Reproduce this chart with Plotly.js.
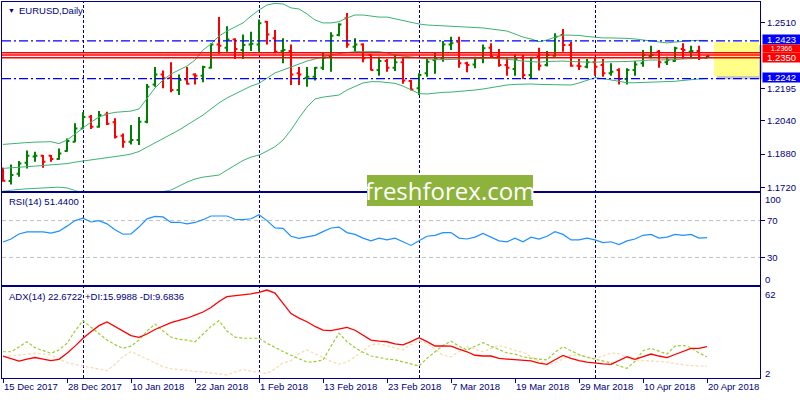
<!DOCTYPE html>
<html>
<head>
<meta charset="utf-8">
<script src="https://cdn.plot.ly/plotly-3.0.1.min.js"></script>
<style>
html,body{margin:0;padding:0;background:#fff;}
#chart{width:800px;height:400px;}
</style>
</head>
<body>
<div id="chart"></div>
<script>
// ---------- DATA ----------
const dates = [
'2017-12-15','2017-12-18','2017-12-19','2017-12-20','2017-12-21','2017-12-22','2017-12-26','2017-12-27','2017-12-28','2017-12-29',
'2018-01-02','2018-01-03','2018-01-04','2018-01-05','2018-01-08','2018-01-09','2018-01-10','2018-01-11','2018-01-12','2018-01-15',
'2018-01-16','2018-01-17','2018-01-18','2018-01-19','2018-01-22','2018-01-23','2018-01-24','2018-01-25','2018-01-26','2018-01-29',
'2018-01-30','2018-01-31','2018-02-01','2018-02-02','2018-02-05','2018-02-06','2018-02-07','2018-02-08','2018-02-09','2018-02-12',
'2018-02-13','2018-02-14','2018-02-15','2018-02-16','2018-02-19','2018-02-20','2018-02-21','2018-02-22','2018-02-23','2018-02-26',
'2018-02-27','2018-02-28','2018-03-01','2018-03-02','2018-03-05','2018-03-06','2018-03-07','2018-03-08','2018-03-09','2018-03-12',
'2018-03-13','2018-03-14','2018-03-15','2018-03-16','2018-03-19','2018-03-20','2018-03-21','2018-03-22','2018-03-23','2018-03-26',
'2018-03-27','2018-03-28','2018-03-29','2018-03-30','2018-04-02','2018-04-03','2018-04-04','2018-04-05','2018-04-06','2018-04-09',
'2018-04-10','2018-04-11','2018-04-12','2018-04-13','2018-04-16','2018-04-17','2018-04-18','2018-04-19','2018-04-20'];

const openP = [1.1811,1.1750,1.1785,1.1838,1.1868,1.1872,1.1872,1.1856,1.1894,1.1939,
1.2003,1.2059,1.2011,1.2070,1.2032,1.1968,1.1939,1.1947,1.2035,1.2214,
1.2262,1.2245,1.2187,1.2238,1.2262,1.2256,1.2294,1.2406,1.2390,1.2429,
1.2379,1.2406,1.2406,1.2515,1.2435,1.2374,1.2374,1.2267,1.2246,1.2251,
1.2294,1.2347,1.2451,1.2531,1.2395,1.2406,1.2355,1.2283,1.2326,1.2294,
1.2320,1.2230,1.2195,1.2267,1.2331,1.2339,1.2406,1.2419,1.2315,1.2310,
1.2339,1.2390,1.2347,1.2307,1.2288,1.2342,1.2259,1.2347,1.2307,1.2352,
1.2451,1.2403,1.2304,1.2299,1.2320,1.2307,1.2267,1.2283,1.2240,1.2283,
1.2315,1.2350,1.2371,1.2320,1.2326,1.2384,1.2371,1.2374,1.2342];
const highP = [1.1814,1.1830,1.1846,1.1897,1.1891,1.1875,1.1875,1.1907,1.1955,1.2027,
1.2080,1.2067,1.2086,1.2083,1.2051,1.1979,1.2019,1.2057,1.2216,1.2297,
1.2281,1.2320,1.2262,1.2297,1.2267,1.2304,1.2411,1.2537,1.2493,1.2435,
1.2454,1.2467,1.2525,1.2518,1.2475,1.2435,1.2406,1.2297,1.2297,1.2297,
1.2368,1.2464,1.2507,1.2557,1.2435,1.2411,1.2358,1.2347,1.2336,1.2355,
1.2347,1.2235,1.2267,1.2336,1.2368,1.2422,1.2443,1.2443,1.2323,1.2347,
1.2406,1.2411,1.2384,1.2339,1.2358,1.2355,1.2347,1.2390,1.2374,1.2459,
1.2480,1.2419,1.2336,1.2336,1.2347,1.2336,1.2315,1.2291,1.2291,1.2326,
1.2379,1.2400,1.2379,1.2347,1.2395,1.2411,1.2400,1.2400,1.2352];
const lowP = [1.1747,1.1734,1.1771,1.1811,1.1843,1.1814,1.1843,1.1853,1.1891,1.1936,
1.2000,1.2000,1.2006,1.2019,1.1955,1.1910,1.1926,1.1923,1.2027,1.2203,
1.2195,1.2176,1.2163,1.2214,1.2214,1.2224,1.2290,1.2361,1.2371,1.2336,
1.2336,1.2374,1.2371,1.2406,1.2363,1.2315,1.2211,1.2211,1.2203,1.2233,
1.2283,1.2275,1.2445,1.2390,1.2371,1.2320,1.2281,1.2256,1.2275,1.2278,
1.2217,1.2185,1.2163,1.2251,1.2265,1.2323,1.2379,1.2294,1.2272,1.2291,
1.2315,1.2342,1.2299,1.2256,1.2256,1.2240,1.2240,1.2281,1.2300,1.2347,
1.2371,1.2299,1.2283,1.2291,1.2256,1.2251,1.2256,1.2214,1.2214,1.2256,
1.2299,1.2339,1.2294,1.2307,1.2323,1.2336,1.2339,1.2331,1.2340];
const closeP = [1.1752,1.1779,1.1835,1.1872,1.1872,1.1843,1.1856,1.1883,1.1942,1.2003,
1.2057,1.2011,1.2067,1.2025,1.1963,1.1939,1.1947,1.2035,1.2203,1.2262,
1.2243,1.2187,1.2235,1.2217,1.2256,1.2297,1.2406,1.2400,1.2429,1.2384,
1.2403,1.2409,1.2507,1.2454,1.2371,1.2379,1.2262,1.2262,1.2251,1.2294,
1.2342,1.2448,1.2502,1.2406,1.2406,1.2339,1.2283,1.2326,1.2294,1.2320,
1.2233,1.2189,1.2259,1.2323,1.2339,1.2406,1.2411,1.2315,1.2307,1.2339,
1.2387,1.2347,1.2307,1.2294,1.2336,1.2259,1.2342,1.2304,1.2355,1.2443,
1.2403,1.2304,1.2301,1.2320,1.2299,1.2267,1.2275,1.2240,1.2283,1.2310,
1.2355,1.2355,1.2320,1.2331,1.2387,1.2379,1.2374,1.2342,1.2350];

const bbUpper = [1.1926,1.1930,1.1933,1.1935,1.1937,1.1937,1.1939,1.1930,1.1947,1.1976,
1.2006,1.2033,1.2057,1.2072,1.2080,1.2084,1.2086,1.2096,1.2147,1.2197,
1.2235,1.2264,1.2283,1.2302,1.2331,1.2379,1.2408,1.2446,1.2470,1.2489,
1.2509,1.2542,1.2571,1.2595,1.2603,1.2600,1.2581,1.2576,1.2552,1.2523,
1.2509,1.2509,1.2515,1.2533,1.2547,1.2547,1.2542,1.2537,1.2537,1.2528,
1.2521,1.2513,1.2504,1.2499,1.2497,1.2494,1.2494,1.2492,1.2491,1.2489,
1.2485,1.2480,1.2475,1.2470,1.2456,1.2441,1.2432,1.2419,1.2427,1.2441,
1.2451,1.2451,1.2449,1.2444,1.2439,1.2437,1.2437,1.2437,1.2435,1.2432,
1.2427,1.2422,1.2417,1.2413,1.2417,1.2422,1.2424,1.2425,1.2425];
const bbMiddle = [1.1811,1.1813,1.1815,1.1817,1.1822,1.1825,1.1827,1.1829,1.1834,1.1841,
1.1846,1.1851,1.1856,1.1861,1.1865,1.1873,1.1880,1.1892,1.1913,1.1933,
1.1952,1.1976,1.1995,1.2019,1.2043,1.2067,1.2096,1.2125,1.2149,1.2168,
1.2187,1.2206,1.2219,1.2245,1.2269,1.2283,1.2297,1.2312,1.2326,1.2336,
1.2347,1.2355,1.2362,1.2367,1.2371,1.2371,1.2371,1.2371,1.2365,1.2355,
1.2350,1.2345,1.2341,1.2336,1.2333,1.2333,1.2333,1.2333,1.2336,1.2338,
1.2341,1.2341,1.2338,1.2336,1.2331,1.2326,1.2324,1.2321,1.2324,1.2326,
1.2326,1.2324,1.2321,1.2321,1.2321,1.2321,1.2321,1.2321,1.2324,1.2326,
1.2329,1.2331,1.2331,1.2331,1.2333,1.2336,1.2338,1.2341,1.2341];
const bbLower = [1.1702,1.1707,1.1710,1.1713,1.1715,1.1717,1.1719,1.1721,1.1717,1.1707,
1.1693,1.1688,1.1684,1.1680,1.1678,1.1677,1.1678,1.1681,1.1686,1.1693,
1.1700,1.1707,1.1726,1.1745,1.1760,1.1769,1.1774,1.1779,1.1803,1.1827,
1.1849,1.1865,1.1875,1.1894,1.1915,1.1947,1.1995,1.2053,1.2105,1.2144,
1.2153,1.2158,1.2163,1.2187,1.2203,1.2221,1.2227,1.2227,1.2223,1.2219,
1.2206,1.2187,1.2170,1.2168,1.2173,1.2176,1.2177,1.2180,1.2182,1.2187,
1.2192,1.2198,1.2206,1.2211,1.2214,1.2216,1.2216,1.2214,1.2213,1.2212,
1.2212,1.2211,1.2221,1.2235,1.2246,1.2242,1.2235,1.2228,1.2222,1.2222,
1.2223,1.2224,1.2225,1.2227,1.2229,1.2233,1.2235,1.2240,1.2243];

const rsi = [46.7,50,55.5,57.8,57.8,57.8,56.5,58.5,64,70,
72.7,68.5,70,66.5,60,55.2,55.5,63,71.9,74.5,
74,68,68.2,66.5,68,71,75,75,75,71.5,
71.1,72,76.3,70,62,61.5,53,50.8,52,54,
58,62,63,57,55,51,48,51,49,51,
47,43,48,53,54,57,57,51,50,52,
56,52,48,47,51,47,52,50,53,58,
55,49,49,51,49,46,47,44,48,50,
54,55,51,52,55,54,55,51,51.44];

const adx = [16.5,15,13.2,14.5,15.5,14.5,13.4,14.3,18.3,23,
28.2,32.5,36.5,39,36,32.5,30,28.8,31,34,
36.5,38.5,40,41.4,43.5,45.5,48.5,52.5,55.6,56.2,
56.8,57.5,58.5,60,58,51,44.5,41.5,39.1,36,
33.6,33.3,34.5,35.4,33.5,30.5,27,26.3,25.9,24.5,
23.8,26,28.6,26,23.1,23.1,23,21,19.3,17,
16.5,16.5,15,14.5,14,13.8,13.3,11.8,11,14,
16.9,15,13.4,12.5,11.7,11.3,11,13.5,16,14.3,
16,17.8,16.5,15.4,17.5,19.5,21.6,21.6,22.67];
const plusDI = [19.3,19.3,22.5,25.9,22,20,18.3,20.5,24.9,33,
39.8,35.5,31,27,24,21.6,23,27,33,37.6,
33,29,27.5,27,25.9,31,36,39.8,33,29,
28.2,28.2,28.2,24.9,22,19.5,17,14.5,12.5,12.8,
13.9,23,31.5,26,22,19,16.5,15.5,14.5,14,
12.5,11,9.9,15,19.5,23.5,26.3,23,20.5,23,
25.3,23,20.5,18.5,17.8,16,15,14.5,13.9,19,
22.6,20,17.5,15.6,14.5,13.2,12,10,8.4,13,
20,21.5,19.5,17.8,23,23.5,22,18.5,16];
const minusDI = [16,16.5,17,17.5,18.3,17.8,17.2,14.5,12.1,11,
9.9,8.8,7.5,6.8,11,16,19.5,17,14.5,12,
9.5,8.2,7.5,6.8,6.4,6,5.2,4.5,4,6,
7.5,6.5,5.5,5,8,12,13.5,18,20.5,18,
15.5,13,11.2,12.5,16,20,24,24.5,23,21.5,
20.5,24,26.6,24.9,21,17,16,19.5,22.6,21,
19.3,21.5,23.5,22,20,19,16,13,10.6,12,
14.5,17,17,16,15,16.5,18.5,18,15.5,13.9,
13.5,13,12.8,12.5,11.5,10.6,10.2,9.9,9.7];

const tickDates = ['2017-12-15','2017-12-28','2018-01-10','2018-01-22','2018-02-01','2018-02-13',
'2018-02-23','2018-03-07','2018-03-19','2018-03-29','2018-04-10','2018-04-20'];
const tickLabels = ['15 Dec 2017','28 Dec 2017','10 Jan 2018','22 Jan 2018','1 Feb 2018','13 Feb 2018',
'23 Feb 2018','7 Mar 2018','19 Mar 2018','29 Mar 2018','10 Apr 2018','20 Apr 2018'];
const priceTicks = [1.1720,1.1880,1.2040,1.2195,1.2510];
const priceTickLabels = ['1.1720','1.1880','1.2040','1.2195','1.2510'];
const blueLevels = [1.2423,1.2242];
const redLevels = [1.2366,1.2355,1.2342];
const priceBoxes = ['1.2423','1.2366','1.2350','1.2242'];
const rsiLevels = [70,30];
const monthStarts = ['2018-01-02','2018-02-01','2018-03-01','2018-04-02'];

// ---------- STYLE ----------
const NAVY = '#000080';
const FONT = 'Liberation Sans, Arial, sans-serif';
const FS = 9.5;

const traces = [
  {type:'ohlc', x:dates, open:openP, high:highP, low:lowP, close:closeP,
   xaxis:'x', yaxis:'y', tickwidth:0.3, hoverinfo:'skip', showlegend:false,
   increasing:{line:{color:'#008000', width:2}},
   decreasing:{line:{color:'#FF0000', width:2}}},
  {type:'scatter', mode:'lines', x:dates, y:bbUpper, xaxis:'x', yaxis:'y',
   line:{color:'#3CB371', width:1}, hoverinfo:'skip', showlegend:false},
  {type:'scatter', mode:'lines', x:dates, y:bbMiddle, xaxis:'x', yaxis:'y',
   line:{color:'#3CB371', width:1}, hoverinfo:'skip', showlegend:false},
  {type:'scatter', mode:'lines', x:dates, y:bbLower, xaxis:'x', yaxis:'y',
   line:{color:'#3CB371', width:1}, hoverinfo:'skip', showlegend:false},
  {type:'scatter', mode:'lines', x:dates, y:rsi, xaxis:'x2', yaxis:'y2',
   line:{color:'#1E90FF', width:1.2}, hoverinfo:'skip', showlegend:false},
  {type:'scatter', mode:'lines', x:dates, y:minusDI, xaxis:'x3', yaxis:'y3',
   line:{color:'#F5DEB3', width:1.3, dash:'3px,2px'}, hoverinfo:'skip', showlegend:false},
  {type:'scatter', mode:'lines', x:dates, y:plusDI, xaxis:'x3', yaxis:'y3',
   line:{color:'#9ACD32', width:1.2, dash:'3px,2px'}, hoverinfo:'skip', showlegend:false},
  {type:'scatter', mode:'lines', x:dates, y:adx, xaxis:'x3', yaxis:'y3',
   line:{color:'#FF0000', width:1.3}, hoverinfo:'skip', showlegend:false}
];

const xRange = [-0.125, 94.625];
const baseX = {type:'category', range:xRange, showline:true, mirror:true, linecolor:NAVY, linewidth:1,
  showgrid:false, zeroline:false, showticklabels:false, ticks:'', fixedrange:true,
  rangeslider:{visible:false}};
const baseY = {side:'right', showline:true, mirror:true, linecolor:NAVY, linewidth:1,
  showgrid:false, zeroline:false, ticks:'outside', ticklen:4, tickcolor:NAVY, fixedrange:true,
  tickfont:{family:FONT, size:FS, color:NAVY}};

const shapes = [];
monthStarts.forEach(d => shapes.push({type:'line', xref:'x', yref:'paper', x0:d, x1:d, x0shift:0.0625, x1shift:0.0625,
  y0:0, y1:1, layer:'below', line:{color:NAVY, width:1, dash:'3px,2px'}}));
// yellow note box with shadow (drawn under the level lines)
shapes.push({type:'rect', xref:'paper', yref:'y', x0:0.943, x1:1.003, y0:1.2239, y1:1.2403,
  line:{width:0}, fillcolor:'rgba(0,0,0,0.22)', layer:'above'});
shapes.push({type:'rect', xref:'paper', yref:'y', x0:0.9393, x1:0.9987, y0:1.2254, y1:1.2418,
  line:{width:0}, fillcolor:'#FFFF88', layer:'above'});
blueLevels.forEach(v => shapes.push({type:'line', xref:'paper', yref:'y', x0:0, x1:1, y0:v, y1:v,
  layer:'above', line:{color:'#0000FF', width:1.3, dash:'9px,3px,2px,3px'}}));
redLevels.forEach(v => shapes.push({type:'line', xref:'paper', yref:'y', x0:0, x1:1, y0:v, y1:v,
  layer:'above', line:{color:'#FF0000', width:1.3}}));
rsiLevels.forEach(v => shapes.push({type:'line', xref:'paper', yref:'y2', x0:0, x1:1, y0:v, y1:v,
  layer:'below', line:{color:'#C0C0C0', width:1, dash:'4px,3px'}}));
// watermark box
shapes.push({type:'rect', xref:'paper', yref:'paper', x0:0.4815, x1:0.7005, y0:0.4574, y1:0.54,
  line:{width:0}, fillcolor:'#8DB33C', layer:'above'});

const ann = [];
function lab(text, x, y, opts){ return Object.assign({text:text, xref:'paper', yref:'paper', x:x, y:y,
  xanchor:'left', yanchor:'middle', showarrow:false, font:{family:FONT, size:FS, color:NAVY}}, opts||{}); }
const py = p => (378 - p)/376;
const px = p => (p - 2)/758;
ann.push(lab('▼', px(6), py(10.5), {font:{family:FONT, size:7, color:NAVY}}));
ann.push(lab('EURUSD,Daily', px(17), py(10.5)));
ann.push(lab('RSI(14) 51.4400', px(6.5), py(201.5)));
ann.push(lab('ADX(14) 22.6722 +DI:15.9988 -DI:9.6836', px(6.5), py(296)));
ann.push(lab('100', px(763), py(199)));
ann.push(lab('0', px(763), py(279)));
ann.push(lab('62', px(763), py(294)));
ann.push(lab('2', px(763), py(373)));
function box(text, yPix, h, fs, bg){ return {text:text, xref:'paper', yref:'paper', x:px(761.5), y:py(yPix), xanchor:'left',
  yanchor:'middle', showarrow:false, bgcolor:bg, width:37, height:h, borderpad:0, align:'center',
  font:{family:FONT, size:fs, color:'#FFFFFF'}}; }
ann.push(box(priceBoxes[0], 39.5, 9, FS, '#0000FF'));
ann.push(box(priceBoxes[1], 48.8, 6.5, 7, '#FF0000'));
ann.push(box(priceBoxes[2], 57.8, 9, FS, '#FF0000'));
ann.push(box(priceBoxes[3], 77, 9, FS, '#0000FF'));
ann.push({text:'freshforex.com', xref:'paper', yref:'paper', x:0.591, y:0.4987, xanchor:'center', yanchor:'middle',
  showarrow:false, font:{family:'Open Sans, sans-serif', size:24, color:'#FFFFFF'}});

const layout = {
  width:800, height:400,
  margin:{l:2, r:40, t:2, b:22},
  paper_bgcolor:'#FFFFFF', plot_bgcolor:'#FFFFFF',
  showlegend:false, dragmode:false,
  xaxis: Object.assign({}, baseX, {anchor:'y'}),
  xaxis2: Object.assign({}, baseX, {anchor:'y2', matches:'x'}),
  xaxis3: Object.assign({}, baseX, {anchor:'y3', matches:'x', showticklabels:true, ticks:'outside',
    ticklen:4, tickcolor:NAVY, tickvals:tickDates, ticktext:tickLabels, ticklabelposition:'outside right',
    tickfont:{family:FONT, size:FS, color:NAVY}}),
  yaxis: Object.assign({}, baseY, {anchor:'x', domain:[0.498, 1], range:[1.17037, 1.26094],
    tickvals:priceTicks, ticktext:priceTickLabels}),
  yaxis2: Object.assign({}, baseY, {anchor:'x2', domain:[0.2473, 0.492], range:[0, 100],
    tickvals:rsiLevels, ticktext:rsiLevels.map(String)}),
  yaxis3: Object.assign({}, baseY, {anchor:'x3', domain:[0, 0.242], range:[2, 62], tickvals:[]}),
  shapes: shapes,
  annotations: ann
};

Plotly.newPlot('chart', traces, layout, {displayModeBar:false, staticPlot:true});
</script>
</body>
</html>
